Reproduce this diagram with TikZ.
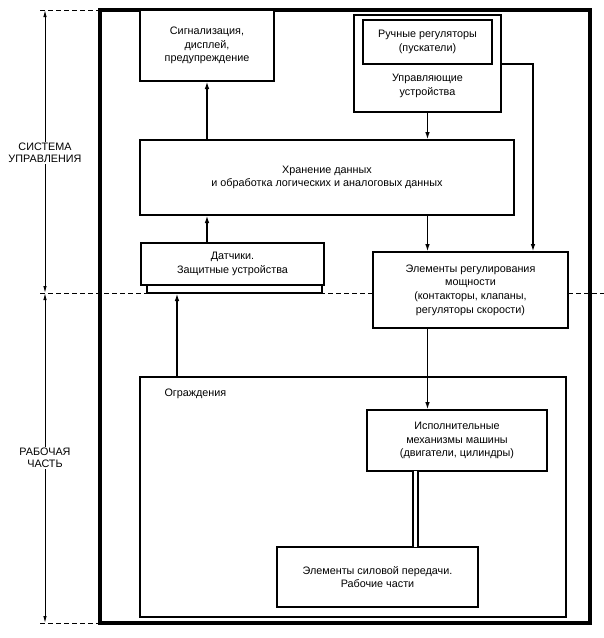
\documentclass[tikz,border=0pt]{standalone}
\usepackage{fontspec}
\setmainfont{Liberation Sans}
\usetikzlibrary{arrows.meta,calc}
\begin{document}
\begin{tikzpicture}[x=1pt,y=-1pt,
  txt/.style={font=\fontsize{10.8}{13.6}\selectfont},
  box/.style={draw,line width=1.6pt,fill=white,inner sep=0pt,outer sep=0pt,align=center,txt},
  arr/.style={line width=1.6pt,-{Latex[length=8pt,width=4.5pt]}},
  dimln/.style={line width=0.9pt,{Latex[length=7pt,width=3.5pt]}-{Latex[length=7pt,width=3.5pt]}},
  dashln/.style={line width=0.9pt,dash pattern=on 5pt off 3pt},
  lbl/.style={fill=white,inner sep=1pt,align=center,font=\fontsize{10.8}{12.5}\selectfont},
  framebox/.style={draw,line width=4pt,inner sep=0pt,outer sep=0pt}]
\useasboundingbox (0,0) rectangle (604,638);
% coordinates for dimension lines
\coordinate (dt) at (45,10);
\coordinate (dm) at (45,293);
\coordinate (db) at (45,623);
\coordinate (dl) at (40,0);
\coordinate (dr) at (604,0);
% dashed level lines
\draw[dashln] (dl |- dt) -- (100,10);
\draw[dashln] (dl |- dm) -- (dr |- dm);
\draw[dashln] (dl |- db) -- (100,623);
% dimension lines
\draw[dimln] (dt) -- (dm);
\draw[dimln] (dm) -- (db);
\node[lbl] (sys) at (45,153) {СИСТЕМА\\УПРАВЛЕНИЯ};
\node[lbl] (work) at (45,458) {РАБОЧАЯ\\ЧАСТЬ};
% main frame
\node[framebox,minimum width=490,minimum height=613] (frame) at (345,316.5) {};
% boxes
\node[box,minimum width=134,minimum height=71] (sig) at (207,45.5) {Сигнализация,\\дисплей,\\предупреждение};
\node[box,minimum width=147,minimum height=97] (ctrl) at (427.5,63.5) {};
\node[box,minimum width=129,minimum height=44] (man) at (427.5,42) {Ручные регуляторы\\(пускатели)};
\node[txt,align=center] (ctrltxt) at (427.5,86) {Управляющие\\устройства};
\node[box,minimum width=374,minimum height=75] (stor) at (327,177.5) {Хранение данных\\и обработка логических и аналоговых данных};
\node[box,minimum width=175,minimum height=8] (plate) at (234.5,289) {};
\node[box,minimum width=183,minimum height=42] (sens) at (232.5,264) {Датчики.\\Защитные устройства};
\node[box,minimum width=195,minimum height=76] (pow) at (470.5,290) {Элементы регулирования\\мощности\\(контакторы, клапаны,\\регуляторы скорости)};
\node[box,minimum width=426,minimum height=240] (encl) at (353,497) {};
\node[anchor=west,txt] (encltxt) at (161,394) {Ограждения};
\node[box,minimum width=180,minimum height=61] (act) at (457,440.5) {Исполнительные\\механизмы машины\\(двигатели, цилиндры)};
\node[box,minimum width=201,minimum height=60] (trans) at (377.5,577) {Элементы силовой передачи.\\Рабочие части};
% connectors
\coordinate (cr) at (533,0);
\coordinate (ea) at (177,0);
\coordinate (dd) at (415.5,0);
\draw[arr] (stor.north -| sig.south) -- (sig.south);
\draw[arr] (sens.north -| sig.south) -- (stor.south -| sig.south);
\draw[arr] (encl.north -| ea) -- (plate.south -| ea);
\draw[arr] (ctrl.south) -- (stor.north -| ctrl.south);
\draw[arr] (stor.south -| ctrl.south) -- (pow.north -| ctrl.south);
\draw[arr] (ctrl.east |- man.south) -| (pow.north -| cr);
\draw[arr] (pow.south -| ctrl.south) -- (act.north -| ctrl.south);
\draw[line width=1.5pt,double distance=3.2pt] (act.south -| dd) -- (trans.north -| dd);
\end{tikzpicture}
\end{document}
